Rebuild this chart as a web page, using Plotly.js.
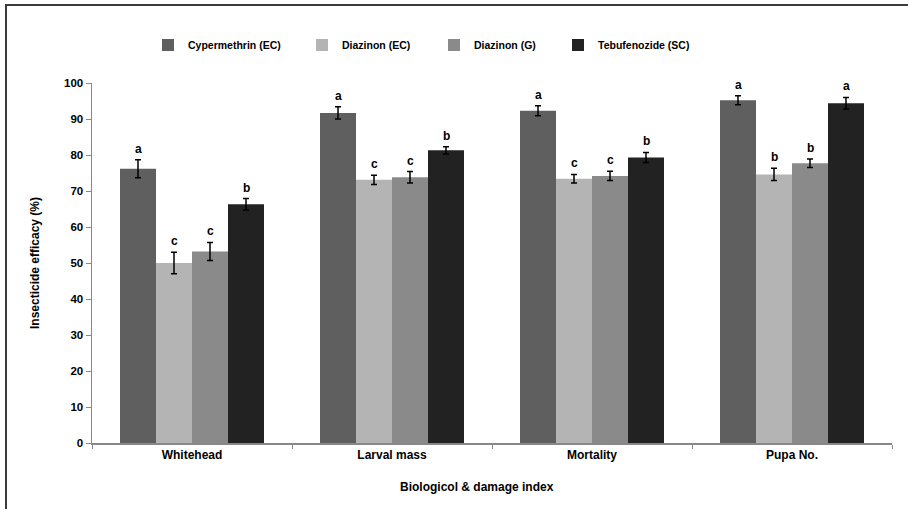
<!DOCTYPE html>
<html>
<head>
<meta charset="utf-8">
<script src="https://cdn.plot.ly/plotly-3.0.1.min.js"></script>
<style>
html,body{margin:0;padding:0;background:#fff;}
#chart{position:absolute;left:0;top:0;width:908px;height:509px;}
#frame{position:absolute;left:5px;top:4px;width:910px;height:520px;border-left:2px solid #3c3c3c;border-top:2px solid #3c3c3c;pointer-events:none;}
</style>
</head>
<body>
<div id="chart"></div>
<div id="frame"></div>
<script>
const categories = ["Whitehead", "Larval mass", "Mortality", "Pupa No."];
const seriesNames = ["Cypermethrin (EC)", "Diazinon (EC)", "Diazinon (G)", "Tebufenozide (SC)"];
const cypermethrinEC = [76.2, 91.7, 92.3, 95.2];
const cypermethrinErr = [2.5, 1.7, 1.4, 1.25];
const diazinonEC = [50.0, 73.1, 73.4, 74.6];
const diazinonECErr = [3.0, 1.3, 1.2, 1.7];
const diazinonG = [53.2, 73.8, 74.2, 77.7];
const diazinonGErr = [2.5, 1.6, 1.3, 1.2];
const tebufenozideSC = [66.3, 81.3, 79.3, 94.4];
const tebufenozideErr = [1.6, 1.0, 1.4, 1.6];
const cypermethrinLetters = ["a", "a", "a", "a"];
const diazinonECLetters = ["c", "c", "c", "b"];
const diazinonGLetters = ["c", "c", "c", "b"];
const tebufenozideLetters = ["b", "b", "b", "a"];
const yTicks = [0, 10, 20, 30, 40, 50, 60, 70, 80, 90, 100];

const colors = ["#5f5f5f", "#b4b4b4", "#8a8a8a", "#222222"];
const values = [cypermethrinEC, diazinonEC, diazinonG, tebufenozideSC];
const errors = [cypermethrinErr, diazinonECErr, diazinonGErr, tebufenozideErr];
const letters = [cypermethrinLetters, diazinonECLetters, diazinonGLetters, tebufenozideLetters];

const FONT = "Liberation Sans, Arial, sans-serif";
const legendIds = ["legend", "legend2", "legend3", "legend4"];

const traces = values.map((v, i) => ({
  type: "bar",
  name: seriesNames[i],
  legend: legendIds[i],
  x: categories,
  y: v,
  marker: {color: colors[i], line: {width: 0}},
  error_y: {type: "data", array: errors[i], visible: true, color: "#000", thickness: 1.5, width: 3}
}));

const marginL = 92, marginR = 16, marginT = 83, marginB = 66;
const plotW = 908 - marginL - marginR, plotH = 509 - marginT - marginB;
const bargap = 0.28;
const catW = plotW / categories.length;
const barW = catW * (1 - bargap) / values.length;
const annotations = [];
values.forEach((v, i) => {
  const shift = (i - (values.length - 1) / 2) * barW;
  v.forEach((val, j) => {
    annotations.push({
      x: categories[j], y: val + errors[i][j], xref: "x", yref: "y",
      text: "<b>" + letters[i][j] + "</b>", showarrow: false,
      xshift: shift, yshift: 2, yanchor: "bottom",
      font: {family: FONT, size: 12, color: "#000"}
    });
  });
});
annotations.push({
  x: (477 - marginL) / plotW, xref: "paper", y: -(487 - 443) / plotH, yref: "paper",
  text: "<b>Biologicol & damage index</b>", showarrow: false,
  xanchor: "center", yanchor: "middle",
  font: {family: FONT, size: 12, color: "#000"}
});

const legendTextStarts = [188, 342, 474, 598];
const legendStyle = (px) => ({
  orientation: "h", x: (px - 40 - marginL) / plotW, xanchor: "left",
  y: (443 - 45) / plotH, yanchor: "middle", borderwidth: 0,
  font: {family: FONT, size: 10.5, color: "#000", weight: "bold"},
  itemwidth: 30, bgcolor: "rgba(0,0,0,0)"
});

const layout = {
  width: 908, height: 509,
  margin: {l: marginL, r: marginR, t: marginT, b: marginB},
  paper_bgcolor: "#fff", plot_bgcolor: "#fff",
  barmode: "group", bargap: bargap, bargroupgap: 0,
  font: {family: FONT, size: 11, color: "#000"},
  showlegend: true,
  legend: legendStyle(legendTextStarts[0]),
  legend2: legendStyle(legendTextStarts[1]),
  legend3: legendStyle(legendTextStarts[2]),
  legend4: legendStyle(legendTextStarts[3]),
  xaxis: {
    type: "category",
    showline: true, linecolor: "#888", linewidth: 1.5,
    ticks: "outside", tickson: "boundaries", ticklen: 4, tickcolor: "#888",
    tickfont: {family: FONT, size: 12, color: "#000", weight: "bold"},
    showgrid: false, zeroline: false
  },
  yaxis: {
    range: [0, 100], tickvals: yTicks, ticktext: yTicks.map(String),
    showline: true, linecolor: "#888", linewidth: 1.5,
    ticks: "outside", ticklen: 5, tickcolor: "#888",
    tickfont: {family: FONT, size: 11.5, color: "#000", weight: "bold"},
    showgrid: false, zeroline: false,
    title: {text: "<b>Insecticide efficacy (%)</b>", font: {family: FONT, size: 12, color: "#000"}, standoff: 22}
  },
  annotations: annotations
};

Plotly.newPlot("chart", traces, layout, {staticPlot: true, displayModeBar: false});
</script>
</body>
</html>
